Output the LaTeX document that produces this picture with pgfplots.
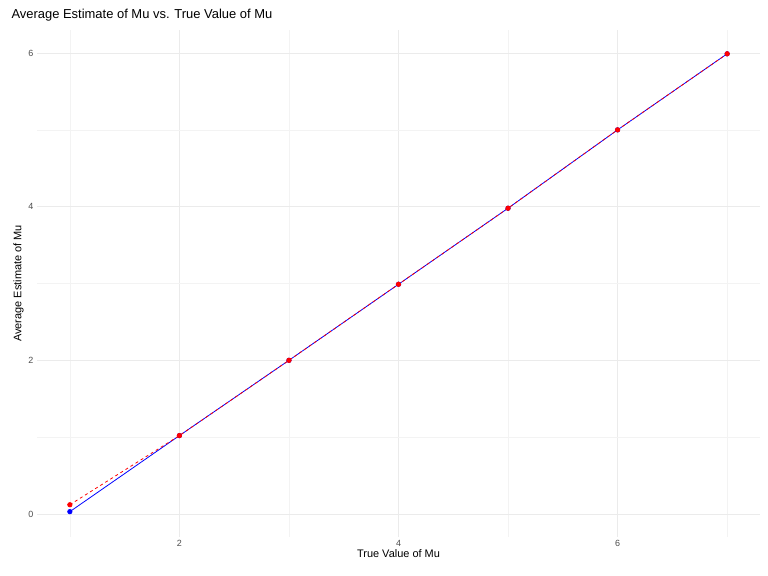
\documentclass[border=0pt]{standalone}
\usepackage{pgfplots}
\pgfplotsset{compat=1.18}
\usepackage{fontspec}
\setmainfont{Liberation Sans}
\definecolor{gridc}{HTML}{EBEBEB}
\definecolor{gridm}{HTML}{F3F3F3}
\definecolor{tickc}{HTML}{4D4D4D}
\begin{document}
\begin{tikzpicture}[x=1bp,y=1bp]
\path (0,0) rectangle (768,576);
\node[anchor=west,font=\fontsize{13}{15}\selectfont] at (8,561) {Average Estimate of Mu vs. True Value of Mu};
\begin{axis}[at={(37bp,39bp)},anchor=south west,scale only axis,
 width=723bp,height=507bp,
 xmin=0.7,xmax=7.3,ymin=-0.3,ymax=6.3,
 axis line style={draw=none},
 tick style={draw=none},
 xtick={2,4,6},ytick={0,2,4,6},
 minor xtick={1,3,5,7},minor ytick={1,3,5},
 grid=both,
 major grid style={draw=gridc,line width=0.8pt},
 minor grid style={draw=gridm,line width=0.5pt},
 ticklabel style={font=\fontsize{9}{10}\selectfont,text=tickc},
 xlabel={True Value of Mu},ylabel={Average Estimate of Mu},
 label style={font=\fontsize{11}{12}\selectfont},
 xlabel style={yshift=4pt},ylabel style={yshift=-2pt},
 /pgf/number format/assume math mode=true,
]
\addplot[blue,line width=0.8pt,mark=*,mark size=2.2pt] coordinates {(1,0.03)(2,1.02)(3,2.00)(4,2.99)(5,3.98)(6,5.00)(7,5.99)};
\addplot[red,dashed,line width=0.8pt,mark=*,mark size=2.2pt,mark options={solid}] coordinates {(1,0.12)(2,1.02)(3,2.00)(4,2.99)(5,3.98)(6,5.00)(7,5.99)};
\end{axis}
\end{tikzpicture}
\end{document}
